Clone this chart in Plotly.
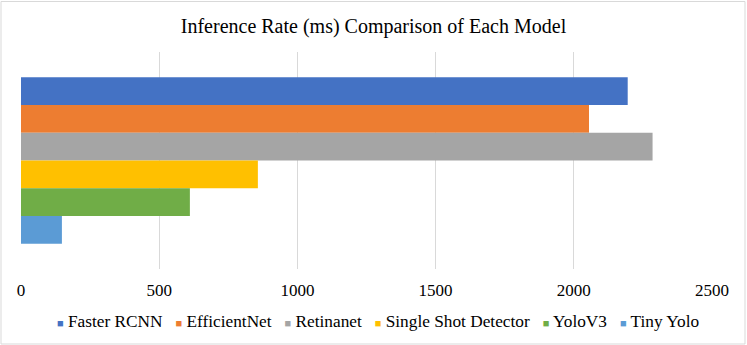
import plotly.graph_objects as go

models = ["Faster RCNN", "EfficientNet", "Retinanet", "Single Shot Detector", "YoloV3", "Tiny Yolo"]
inference_ms = [2195, 2055, 2285, 857, 611, 148]
colors = ["#4472C4", "#ED7D31", "#A5A5A5", "#FFC000", "#70AD47", "#5B9BD5"]
x_ticks = [0, 500, 1000, 1500, 2000, 2500]

W, H = 747, 345
L, R, T, B = 21, 35, 52, 76
pw, ph = W - L - R, H - T - B
SERIF = "Liberation Serif, Times New Roman, Times, serif"

fig = go.Figure()

for model, value, color in zip(models, inference_ms, colors):
    fig.add_trace(
        go.Bar(
            x=[value],
            y=[0],
            orientation="h",
            name=model,
            marker=dict(color=color, line=dict(width=0)),
            showlegend=False,
        )
    )

# excel style legend: small squares + names on one line
legend_text = "   ".join(
    f"<span style='color:{c};font-size:11px'>■</span> {m}" for m, c in zip(models, colors)
)

fig.add_annotation(
    text=legend_text,
    xref="paper", yref="paper",
    x=(378 - L) / pw, y=(T + ph - 321) / ph,
    xanchor="center", yanchor="middle",
    showarrow=False,
    font=dict(size=17.3, color="#000000", family=SERIF),
)

# chart border
fig.add_shape(
    type="rect",
    xref="paper", yref="paper",
    x0=(1 - L) / pw, x1=(745 - L) / pw,
    y0=(T + ph - 344) / ph, y1=(T + ph - 1.5) / ph,
    line=dict(color="#D9D9D9", width=1),
    fillcolor="rgba(0,0,0,0)",
    layer="below",
)

fig.update_layout(
    width=W,
    height=H,
    barmode="group",
    bargap=0.232,
    bargroupgap=0,
    margin=dict(l=L, r=R, t=T, b=B),
    paper_bgcolor="white",
    plot_bgcolor="white",
    font=dict(family=SERIF, color="#000000", size=17),
    title=dict(
        text="Inference Rate (ms) Comparison of Each Model",
        xref="container", yref="container",
        x=0.5, y=1 - 26 / H,
        xanchor="center", yanchor="middle",
        font=dict(size=20, color="#000000", family=SERIF),
    ),
    xaxis=dict(
        range=[0, 2500],
        tickvals=x_ticks,
        showgrid=True,
        gridcolor="#D9D9D9",
        gridwidth=1,
        zeroline=False,
        showline=False,
        ticks="",
        ticklabelstandoff=9,
        tickfont=dict(size=17, family=SERIF),
    ),
    yaxis=dict(
        range=[0.5, -0.5],
        showticklabels=False,
        showgrid=False,
        zeroline=False,
        showline=False,
        ticks="",
    ),
)

fig.write_html(
    "out.html",
    config={"displayModeBar": False},
    post_script="document.body.style.margin='0';",
)
